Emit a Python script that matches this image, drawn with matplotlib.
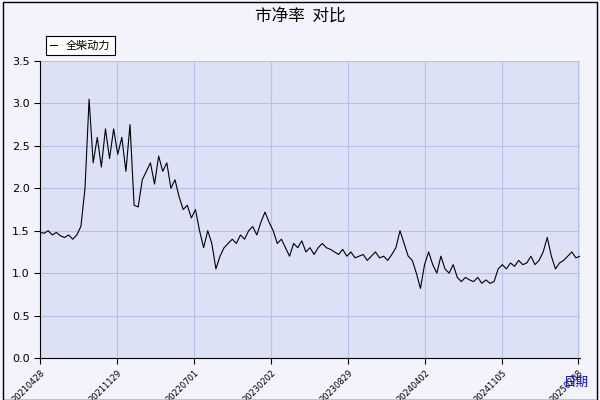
import numpy as np
import matplotlib.pyplot as plt
import matplotlib.patches as patches

plt.rcParams['font.family'] = ['Noto Sans CJK SC', 'DejaVu Sans']

series_name = '全柴动力'
pb_values = [1.48, 1.47, 1.50, 1.45, 1.48, 1.44, 1.42, 1.45,
             1.40, 1.45, 1.55, 2.00, 3.05, 2.30, 2.60, 2.25, 2.70, 2.35, 2.70, 2.40, 2.60, 2.20, 2.75,
             1.80, 1.78, 2.10, 2.20, 2.30, 2.05, 2.38, 2.20, 2.30, 2.00, 2.10, 1.90, 1.75, 1.80, 1.65, 1.75,
             1.50, 1.30, 1.50, 1.35, 1.05, 1.20, 1.30, 1.35, 1.40, 1.35, 1.45, 1.40, 1.50, 1.55, 1.45, 1.60, 1.72,
             1.60, 1.50, 1.35, 1.40, 1.30, 1.20, 1.35, 1.30, 1.38, 1.25, 1.30, 1.22, 1.30, 1.35, 1.30, 1.28,
             1.25, 1.22, 1.28, 1.20, 1.25, 1.18, 1.20, 1.22, 1.15, 1.20, 1.25, 1.18, 1.20, 1.15, 1.22, 1.30, 1.50,
             1.35, 1.20, 1.15, 1.00, 0.82, 1.10, 1.25, 1.10, 1.00, 1.20, 1.05, 1.00, 1.10, 0.95, 0.90, 0.95,
             0.92, 0.90, 0.95, 0.88, 0.92, 0.88, 0.90, 1.05, 1.10, 1.05, 1.12, 1.08, 1.15, 1.10, 1.12, 1.20,
             1.10, 1.15, 1.25, 1.42, 1.20, 1.05, 1.12, 1.15, 1.20, 1.25, 1.18, 1.20]
tick_labels = ['20210428', '20211129', '20220701', '20230202', '20230829',
               '20240402', '20241105', '20250208']

# x axis in units of one tick interval (ticks are evenly spaced in the reference)
span = 540 / 77.0
xs = np.linspace(0, span, len(pb_values))
tick_pos = list(range(7)) + [538 / 77.0]

fig = plt.figure(figsize=(6, 4), dpi=100, facecolor='#f2f3fb')
ax = fig.add_axes([40/600, 42/400, 540/600, 297/400], facecolor='#dde1f6')
ax.plot(xs, pb_values, color='black', lw=0.8, label=series_name)
ax.set_xlim(0, span)
ax.set_ylim(0, 3.5)
yt = np.arange(0, 3.51, 0.5)
ax.set_yticks(yt)
ax.set_yticklabels([f'{v:.1f}' for v in yt], fontsize=8, family='DejaVu Sans')
ax.set_xticks(tick_pos)
ax.set_xticklabels(tick_labels, rotation=45, fontsize=6, ha='right', va='top',
                   rotation_mode='anchor', family='DejaVu Sans')
ax.grid(color='#b4c2ea', lw=0.8)
for s in ['top', 'right']:
    ax.spines[s].set_visible(False)
ax.tick_params(length=4)

fig.text(0.5, 0.96, '市净率  对比', ha='center', va='center', fontsize=12)
fig.text(0.96, 0.035, '日期', color='blue', fontsize=9, ha='center')
leg = ax.legend(loc='lower left', bbox_to_anchor=(0, 1.0), fontsize=8, fancybox=False,
                framealpha=1, edgecolor='black', handlelength=0.6, borderpad=0.4)
leg.get_frame().set_linewidth(0.8)
fig.patches.append(patches.Rectangle((0.005, 0.0), 0.99, 0.995, transform=fig.transFigure,
                                     fill=False, edgecolor='black', lw=1))
fig.savefig('out.png', dpi=100, facecolor=fig.get_facecolor())
